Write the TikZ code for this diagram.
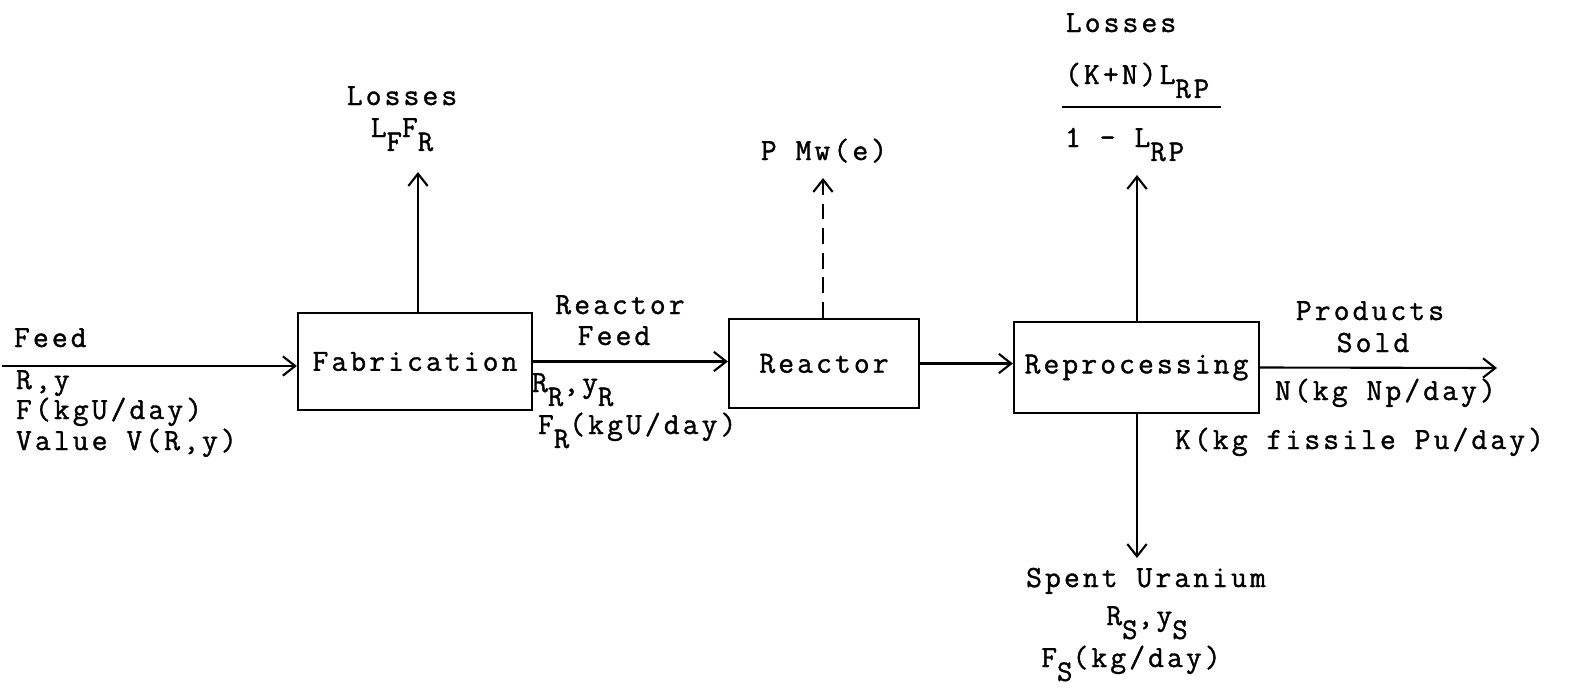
\documentclass[tikz,border=0pt]{standalone}
\usepackage{fontspec}
\setmonofont{Latin Modern Mono}[LetterSpace=10, FakeBold=1.2]
\usetikzlibrary{arrows.meta,positioning}
\newcommand{\lo}[1]{\raisebox{-1.05ex}{\fontsize{17}{19}\selectfont #1}}

\begin{document}
\begin{tikzpicture}[x=0.02cm, y=-0.02cm,
  font=\ttfamily\fontsize{17.5}{21}\selectfont,
  >={Straight Barb[length=7pt,width=11pt]}, line width=1.2pt,
  blk/.style={draw, inner sep=0, line width=1.3pt},
  lbl/.style={inner sep=0, anchor=base west},
  ctr/.style={inner sep=0, anchor=base}]
\useasboundingbox (0,0) rectangle (1570,690);

% boxes
\node[blk, minimum width=4.68cm, minimum height=1.94cm] (fab) at (415,361.5) {Fabrication};
\node[blk, minimum width=3.8cm, minimum height=1.78cm] (react) at (824,363.5) {Reactor};
\node[blk, minimum width=4.9cm, minimum height=1.82cm] (rep) at (1136.5,367.5) {Reprocessing};

% free ends
\coordinate (feedin) at (2,366);
\coordinate (sold) at (1497,368);
\coordinate (lossF) at (418,172);
\coordinate (power) at (823,178);
\coordinate (lossRP) at (1137,175);
\coordinate (spent) at (1137,558);

% flows
\draw[->] (feedin) -- (feedin -| fab.west);
\draw[->] (fab.east) -- (fab.east -| react.west);
\draw[->] (react.east) -- (react.east -| rep.west);
\draw[->] (rep.east) -- (sold);
\draw[->] (lossF |- fab.north) -- (lossF);
\draw[->, dash pattern=on 9pt off 5pt] (power |- react.north) -- (power);
\draw[->] (lossRP |- rep.north) -- (lossRP);
\draw[->] (spent |- rep.south) -- (spent);

% feed
\node[lbl] (feed) at (13,347) {Feed};
\node[lbl] (feedRy) at (15,389) {R,y};
\node[lbl] (feedF) at (15,419) {F(kgU/day)};
\node[lbl] (feedV) at (15,450) {Value V(R,y)};

% fabrication losses
\node[ctr] (lossFa) at (402,105) {Losses};
\node[ctr] (lossFb) at (402,137) {L\lo{F}F\lo{R}};

% reactor feed
\node[ctr] (rfeeda) at (620,314) {Reactor};
\node[ctr] (rfeedb) at (614,345) {Feed};
\node[lbl] (rfeedRy) at (531,392) {R\lo{R},y\lo{R}};
\node[lbl] (rfeedF) at (537,434) {F\lo{R}(kgU/day)};

% power
\node[ctr] (pmw) at (824,160) {P Mw(e)};

% reprocessing losses
\node[ctr] (lossRa) at (1121,32) {Losses};
\node[lbl] (lossRb) at (1064,84) {(K+N)L\lo{RP}};
\draw[line width=1.3pt] (1062,107) -- (1221,107);
\node[lbl] (lossRc) at (1064,147) {1 - L\lo{RP}};

% products
\node[ctr] (proda) at (1370,320) {Products};
\node[ctr] (prodb) at (1373,352) {Sold};
\node[lbl] (prodN) at (1274,400) {N(kg Np/day)};
\node[lbl] (prodK) at (1174,449) {K(kg fissile Pu/day)};

% spent uranium
\node[ctr] (spenta) at (1146,587) {Spent Uranium};
\node[ctr] (spentb) at (1147,625) {R\lo{S},y\lo{S}};
\node[ctr] (spentc) at (1131,667) {F\lo{S}(kg/day)};
\end{tikzpicture}
\end{document}
